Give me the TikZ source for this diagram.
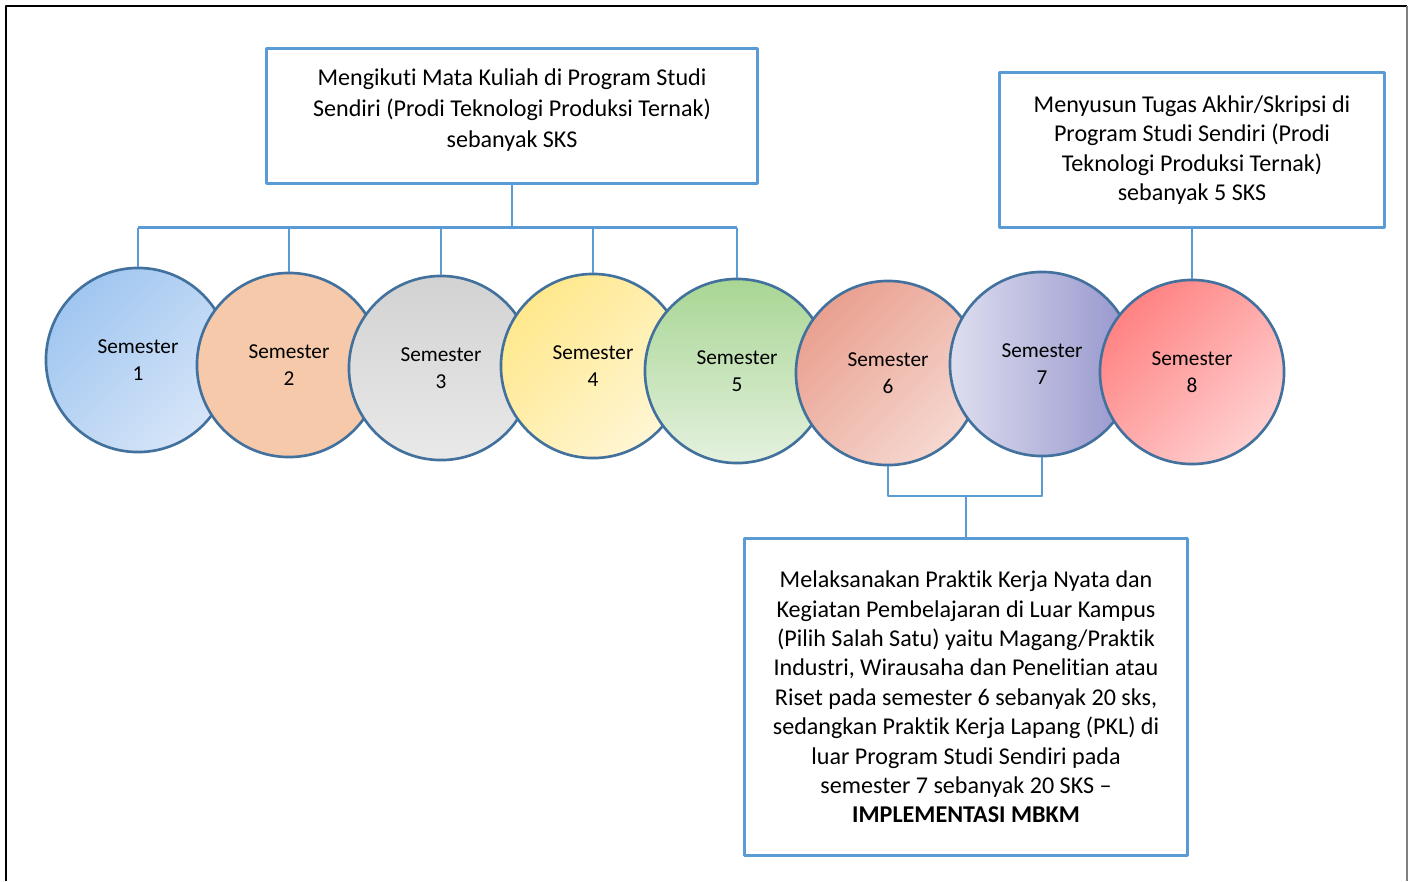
\documentclass[tikz,border=0pt]{standalone}
\usepackage{fontspec}
\setmainfont{Carlito}[Ligatures=NoCommon]
\definecolor{semline}{RGB}{65,113,156}
\definecolor{boxline}{RGB}{91,155,213}
\begin{document}
\begin{tikzpicture}[x=0.01cm,y=-0.01cm,line join=round,
	semester/.style={circle,draw=semline,line width=0.75pt,minimum size=1.84cm,inner sep=0pt,align=center,font=\fontsize{6.05}{7.6}\selectfont},
	kotak/.style={draw=boxline,line width=0.85pt,align=center,inner sep=0pt,font=\fontsize{6.85}{8.35}\selectfont},
	garis/.style={draw=boxline,line width=0.6pt}] %Alur semester MBKM
			\useasboundingbox (0,0) rectangle (1409,881);
			\draw[line width=0.8pt] (6,881)--(6,6)--(1407,6);
			\draw[gray,line width=0.3pt] (1407,6)--(1407,881);
			\node[kotak,minimum width=4.9cm,minimum height=1.34cm] (atas) at (512,116) {};
			\node[align=center,inner sep=0pt,font=\fontsize{6.85}{8.9}\selectfont] (atasteks) at (512,110) {Mengikuti Mata Kuliah di Program Studi\\Sendiri (Prodi Teknologi Produksi Ternak)\\sebanyak SKS};
			\node[kotak,minimum width=3.85cm,minimum height=1.55cm] (akhir) at (1192,150) {Menyusun Tugas Akhir/Skripsi di\\Program Studi Sendiri (Prodi\\Teknologi Produksi Ternak)\\sebanyak 5 SKS};
			\node[kotak,minimum width=4.42cm,minimum height=3.16cm] (pkl) at (966,697) {Melaksanakan Praktik Kerja Nyata dan\\Kegiatan Pembelajaran di Luar Kampus\\(Pilih Salah Satu) yaitu Magang/Praktik\\Industri, Wirausaha dan Penelitian atau\\Riset pada semester 6 sebanyak 20 sks,\\sedangkan Praktik Kerja Lapang (PKL) di\\luar Program Studi Sendiri pada\\semester 7 sebanyak 20 SKS --\\\textbf{IMPLEMENTASI MBKM}};
			\node[semester,top color={rgb,255:red,160;green,198;blue,240},bottom color={rgb,255:red,214;green,229;blue,248},shading angle=45] (s1) at (138,360) {Semester\\1};
			\node[semester,fill={rgb,255:red,246;green,201;blue,170}] (s2) at (289,365) {Semester\\2};
			\node[semester,top color={rgb,255:red,210;green,210;blue,210},bottom color={rgb,255:red,233;green,233;blue,233}] (s3) at (441,368) {Semester\\3};
			\node[semester,top color={rgb,255:red,255;green,232;blue,140},bottom color={rgb,255:red,255;green,246;blue,212},shading angle=45] (s4) at (593,366) {Semester\\4};
			\node[semester,top color={rgb,255:red,168;green,214;blue,148},bottom color={rgb,255:red,228;green,241;blue,222}] (s5) at (737,371) {Semester\\5};
			\node[semester,top color={rgb,255:red,233;green,160;blue,144},bottom color={rgb,255:red,246;green,216;blue,208},shading angle=45] (s6) at (888,373) {Semester\\6};
			\node[semester,left color={rgb,255:red,222;green,222;blue,240},right color={rgb,255:red,148;green,148;blue,204}] (s7) at (1042,364) {Semester\\7};
			\node[semester,top color={rgb,255:red,255;green,130;blue,130},bottom color={rgb,255:red,255;green,208;blue,208},shading angle=45] (s8) at (1192,372) {Semester\\8};
			\draw[garis] (atas.south)--++(0,43) coordinate (cab);
			\draw[garis] (s1.north |- cab)--(s5.north |- cab);
			\foreach \s in {s1,s2,s3,s4,s5}
				\draw[garis] (\s.north |- cab)--(\s.north);
			\draw[garis] (akhir.south)--(s8.north);
			\draw[garis] (pkl.north)--++(0,-41) coordinate (cpkl);
			\draw[garis] (s6.south)--(s6.south |- cpkl)--(s7.south |- cpkl)--(s7.south);
		\end{tikzpicture}
\end{document}
